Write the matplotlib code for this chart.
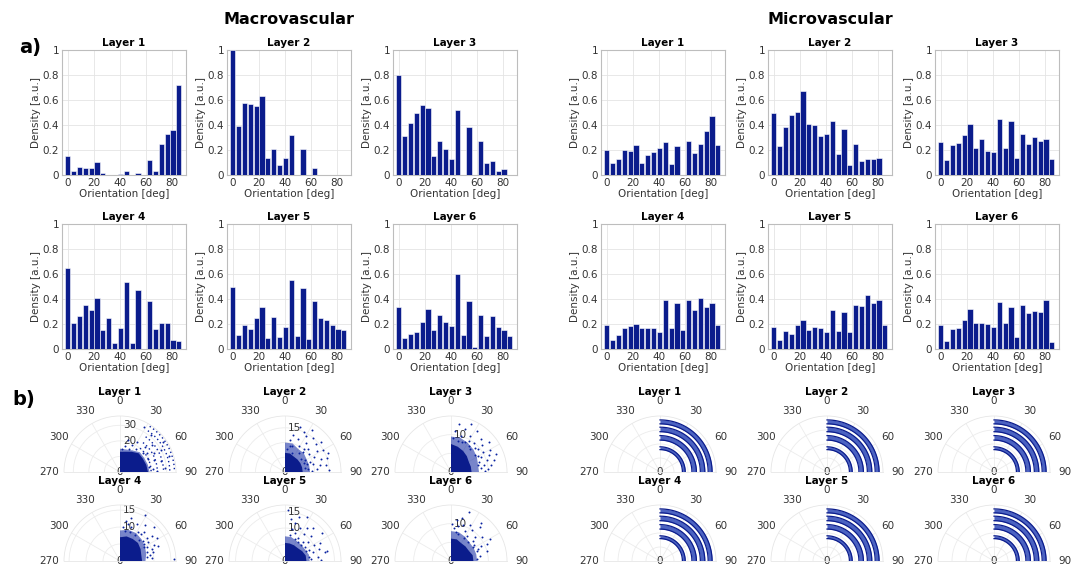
import numpy as np
import matplotlib
matplotlib.use("Agg")
import matplotlib.pyplot as plt

# ---------------------------------------------------------------- data
orientation_bins = [0, 4.5, 9, 13.5, 18, 22.5, 27, 31.5, 36, 40.5,
                    45, 49.5, 54, 58.5, 63, 67.5, 72, 76.5, 81, 85.5]

macro_l1 = [0.155, 0.035, 0.065, 0.06, 0.055, 0.105, 0.015, 0.003, 0.0, 0.005,
            0.03, 0.0, 0.02, 0.0, 0.12, 0.035, 0.25, 0.325, 0.36, 0.72]
macro_l2 = [1.0, 0.395, 0.575, 0.565, 0.55, 0.635, 0.14, 0.21, 0.08, 0.14,
            0.32, 0.0, 0.21, 0.0, 0.06, 0.0, 0.0, 0.0, 0.0, 0.0]
macro_l3 = [0.8, 0.31, 0.415, 0.5, 0.56, 0.54, 0.155, 0.275, 0.21, 0.125,
            0.52, 0.0, 0.385, 0.0, 0.275, 0.095, 0.11, 0.03, 0.05, 0.0]
macro_l4 = [0.65, 0.205, 0.265, 0.355, 0.31, 0.405, 0.155, 0.245, 0.045, 0.17,
            0.535, 0.045, 0.475, 0.0, 0.385, 0.16, 0.21, 0.205, 0.07, 0.065]
macro_l5 = [0.5, 0.115, 0.195, 0.16, 0.25, 0.34, 0.085, 0.255, 0.095, 0.175,
            0.555, 0.105, 0.49, 0.08, 0.385, 0.245, 0.23, 0.195, 0.16, 0.15]
macro_l6 = [0.335, 0.085, 0.12, 0.14, 0.22, 0.32, 0.155, 0.275, 0.22, 0.185,
            0.6, 0.115, 0.385, 0.015, 0.275, 0.105, 0.265, 0.175, 0.15, 0.105]

micro_l1 = [0.2, 0.1, 0.13, 0.2, 0.195, 0.24, 0.1, 0.16, 0.185, 0.215,
            0.265, 0.085, 0.23, 0.0, 0.27, 0.18, 0.25, 0.35, 0.47, 0.24]
micro_l2 = [0.5, 0.23, 0.385, 0.48, 0.505, 0.675, 0.405, 0.4, 0.31, 0.325,
            0.435, 0.165, 0.365, 0.08, 0.25, 0.11, 0.13, 0.13, 0.14, 0.0]
micro_l3 = [0.265, 0.12, 0.24, 0.255, 0.32, 0.405, 0.22, 0.285, 0.195, 0.185,
            0.445, 0.22, 0.43, 0.135, 0.33, 0.245, 0.305, 0.275, 0.29, 0.125]
micro_l4 = [0.19, 0.07, 0.115, 0.165, 0.185, 0.2, 0.165, 0.165, 0.165, 0.135,
            0.395, 0.165, 0.37, 0.155, 0.39, 0.31, 0.41, 0.34, 0.37, 0.195]
micro_l5 = [0.18, 0.075, 0.145, 0.12, 0.19, 0.23, 0.155, 0.175, 0.165, 0.135,
            0.315, 0.145, 0.3, 0.14, 0.35, 0.345, 0.43, 0.365, 0.39, 0.195]
micro_l6 = [0.19, 0.065, 0.16, 0.17, 0.235, 0.32, 0.21, 0.205, 0.2, 0.175,
            0.375, 0.21, 0.335, 0.095, 0.355, 0.29, 0.305, 0.3, 0.395, 0.06]

layer_titles = ["Layer 1", "Layer 2", "Layer 3", "Layer 4", "Layer 5", "Layer 6"]

# polar scatter: orientation (deg) vs. length, macrovascular segments
core_theta = [0, 15, 30, 45, 60, 75, 90]
macro_core_r = [[13, 13.5, 15, 17, 17, 17.5, 18],
                [6.5, 6.5, 6, 6, 6, 6, 6],
                [7.5, 7, 6.5, 6, 5.5, 5.5, 5.5],
                [7, 7.5, 7.5, 7.5, 7, 6.5, 6.5],
                [5.5, 5.5, 5.5, 5.5, 6, 6.5, 6.5],
                [6, 6, 5.5, 5.5, 5.5, 6, 6]]
macro_mid_r = [[15, 15, 16, 18, 18, 18.5, 19],
               [10, 10, 9, 9, 8.5, 8.5, 8.5],
               [9.5, 9.5, 9, 8.5, 8, 7.5, 7.5],
               [9, 9.5, 9.5, 9, 8.5, 8, 7.5],
               [7.5, 7.5, 7, 7, 7, 7.5, 7.5],
               [8, 8, 7.5, 7, 7, 7, 7]]
macro_rmax = [36, 19, 15, 16.5, 17, 15]
macro_rticks = [[10, 20, 30], [5, 10, 15], [5, 10],
                [5, 10, 15], [5, 10, 15], [5, 10]]
macro_rlabels = [[20, 30], [15], [10], [10, 15], [10, 15], [10]]

macro_l1_arc_r = [20, 24, 28, 32, 35]
macro_l1_arc_start = [40, 38, 36, 34, 33]

macro_l1_theta = [5, 10, 20, 25, 35, 50, 55, 65, 80, 85, 15, 30, 45, 60, 70,
                  75, 88, 50, 62, 40, 85, 28, 55, 72]
macro_l1_r = [15, 17, 16, 19, 18, 19, 21, 20, 19, 21, 21, 22, 23, 25, 23,
              27, 24, 27, 30, 31, 29, 33, 34, 33]
macro_l2_theta = [5, 8, 12, 15, 18, 22, 25, 28, 30, 33, 36, 40, 42, 45, 48, 50,
                  53, 56, 58, 60, 63, 66, 68, 70, 72, 75, 78, 80, 82, 85, 87, 88,
                  20, 35, 50, 65, 80, 10, 40, 70]
macro_l2_r = [8, 11, 13, 9, 16, 12, 15, 10, 14, 17, 12, 15, 9, 11, 14, 16,
              10, 13, 8, 15, 11, 16, 9, 13, 15, 10, 12, 14, 8, 11, 15, 9,
              7, 8, 7, 7, 7, 9, 10, 8]
macro_l3_theta = [5, 10, 15, 18, 22, 25, 28, 32, 35, 38, 42, 45, 48, 52, 55, 58,
                  60, 63, 66, 68, 70, 72, 75, 78, 80, 83, 85, 88, 20, 30, 40, 50,
                  60, 3, 12, 76]
macro_l3_r = [11, 13, 10, 12, 14, 9, 11, 13, 8.5, 10, 12, 9, 11, 13, 8, 10,
              12, 9, 11, 13, 8, 10, 12, 9, 11, 8, 10, 9, 8.5, 9.5, 8, 9.5,
              8.5, 9, 8.5, 7.5]
macro_l4_theta = [5, 8, 12, 15, 20, 25, 28, 32, 35, 40, 45, 48, 52, 55, 58, 62,
                  65, 68, 72, 75, 78, 82, 85, 88, 18, 30, 42, 50, 60, 70, 10, 38, 55]
macro_l4_r = [10, 12, 11, 13, 9, 12, 15.5, 10, 13, 11, 14, 9, 12, 10, 13, 9,
              11, 12, 8.5, 10, 9, 8, 9.5, 16, 10.5, 9, 8.5, 10.5, 8, 10, 9, 10, 8.5]
macro_l5_theta = [3, 8, 12, 15, 18, 20, 24, 27, 30, 33, 36, 40, 43, 46, 50, 53,
                  56, 60, 63, 66, 70, 73, 76, 80, 83, 86, 88, 10, 25, 45, 65, 35, 78]
macro_l5_r = [15.5, 13, 10, 12, 14, 9, 11, 15, 8, 12, 10, 13, 8, 11, 9, 14,
              7.5, 10, 12, 8, 11, 9, 13, 7.5, 10, 8, 11, 8, 7.5, 7, 7, 7, 12.5]
macro_l6_theta = [5, 8, 10, 14, 18, 20, 25, 28, 32, 35, 40, 45, 48, 52, 55, 60,
                  63, 66, 70, 75, 80, 85, 15, 30, 42, 58, 2, 12, 38, 65]
macro_l6_r = [9, 11, 8, 12, 10, 14, 9, 11, 8, 10, 12, 9, 8, 10.5, 7.5, 12,
              9, 8, 7.5, 10, 8, 7, 7.5, 7, 7, 7, 10, 9.5, 13, 10.5]

macro_scatter_theta = [macro_l1_theta, macro_l2_theta, macro_l3_theta,
                       macro_l4_theta, macro_l5_theta, macro_l6_theta]
macro_scatter_r = [macro_l1_r, macro_l2_r, macro_l3_r,
                   macro_l4_r, macro_l5_r, macro_l6_r]

# microvascular segments cluster on a few discrete lengths (rings)
micro_ring_inner = [0.40, 0.57, 0.72, 0.86]
micro_ring_outer = [0.45, 0.65, 0.80, 0.93]

# ---------------------------------------------------------------- style
BAR = "#0b1c8c"
DOT = "#0a22a0"
TXT = "#333333"
W, H = 1078, 569
R_PX = 56

fig = plt.figure(figsize=(W / 100, H / 100), dpi=100)
fig.patch.set_facecolor("white")


def px_axes(left, top, width, height, **kw):
    return fig.add_axes([left / W, 1 - (top + height) / H, width / W, height / H], **kw)


def hist_panel(cx, top, vals, title):
    ax = px_axes(cx - 62, top, 124, 125)
    ax.bar(orientation_bins, vals, width=4.0, color=BAR, edgecolor="white",
           linewidth=0.4, zorder=3)
    ax.set_xlim(-4.5, 91)
    ax.set_ylim(0, 1)
    ax.set_xticks([0, 20, 40, 60, 80])
    ax.set_yticks([0, 0.2, 0.4, 0.6, 0.8, 1.0])
    ax.set_yticklabels(["0", "0.2", "0.4", "0.6", "0.8", "1"])
    ax.grid(True, color="#e4e4e4", lw=0.6)
    ax.set_axisbelow(True)
    ax.tick_params(length=0, labelsize=7.5, colors=TXT, pad=2)
    for s in ax.spines.values():
        s.set_color("#bdbdbd")
        s.set_linewidth(0.8)
    ax.set_title(title, fontsize=7.5, fontweight="bold", pad=3)
    ax.set_xlabel("Orientation [deg]", fontsize=7.5, labelpad=1, color=TXT)
    ax.set_ylabel("Density [a.u.]", fontsize=7.5, labelpad=1, color=TXT)
    return ax


def polar_base(cx, cy, rmax, rticks, rlabels, title):
    # a half-disc wedge is centred in a square box: origin sits at 1/4 height
    ax = px_axes(cx - R_PX, cy - 1.5 * R_PX, 2 * R_PX, 2 * R_PX,
                 projection="polar")
    ax.set_theta_zero_location("N")
    ax.set_theta_direction(-1)
    ax.set_thetamin(-90)
    ax.set_thetamax(90)
    ax.set_ylim(0, rmax)
    ax.set_xticks(np.deg2rad([-90, -60, -30, 0, 30, 60, 90]))
    ax.set_xticklabels(["270", "300", "330", "0", "30", "60", "90"])
    ax.set_yticks(rticks)
    ax.set_yticklabels([])
    ax.tick_params(labelsize=7.5, colors=TXT, pad=0)
    ax.grid(True, color="#ececec", lw=0.6)
    for s in ax.spines.values():
        s.set_color("#e6e6e6")
        s.set_linewidth(0.6)
    for t in rlabels:
        ax.annotate(str(t), xy=(0, t), xytext=(2, 0), textcoords="offset points",
                    fontsize=7.5, color=TXT, ha="left", va="center", zorder=2)
    ax.text(0, 0, "0", fontsize=7.5, color=TXT, ha="center", va="center",
            zorder=2)
    fig.text(cx / W, 1 - (cy - 80) / H, title, ha="center", va="center",
             fontsize=7.5, fontweight="bold")
    return ax


macro_hist = [macro_l1, macro_l2, macro_l3, macro_l4, macro_l5, macro_l6]
micro_hist = [micro_l1, micro_l2, micro_l3, micro_l4, micro_l5, micro_l6]
macro_cx = [124, 289, 455]
micro_cx = [663, 830, 997]
hist_top = [50, 224]

for i in range(6):
    row, col = divmod(i, 3)
    hist_panel(macro_cx[col], hist_top[row], macro_hist[i], layer_titles[i])
    hist_panel(micro_cx[col], hist_top[row], micro_hist[i], layer_titles[i])

polar_cy = [472, 561]
core_rad = np.deg2rad(core_theta)

for i in range(6):
    row, col = divmod(i, 3)
    # macrovascular
    ax = polar_base(macro_cx[col] - 4, polar_cy[row], macro_rmax[i],
                    macro_rticks[i], macro_rlabels[i], layer_titles[i])
    th = np.concatenate([[0], core_rad, [np.pi / 2]])
    ax.fill(th, np.concatenate([[0], macro_mid_r[i], [0]]), color=DOT,
            alpha=0.55, lw=0, zorder=3)
    ax.fill(th, np.concatenate([[0], macro_core_r[i], [0]]), color=BAR,
            lw=0, zorder=3)
    if i == 0:
        for r, a0 in zip(macro_l1_arc_r, macro_l1_arc_start):
            arc = np.deg2rad(np.linspace(a0, 90, 40))
            ax.plot(arc, np.full_like(arc, r), ls=(0, (1, 2)), color=DOT,
                    lw=1.0, zorder=3)
    ax.scatter(np.deg2rad(macro_scatter_theta[i]), macro_scatter_r[i], s=2,
               color=DOT, lw=0, zorder=3)

    # microvascular
    ax = polar_base(micro_cx[col] - 3, polar_cy[row], 1.0, [0.25, 0.5, 0.75],
                    [], layer_titles[i])
    arc = np.deg2rad(np.linspace(0, 90, 60))
    for r0, r1 in zip(micro_ring_inner, micro_ring_outer):
        ax.fill_between(arc, r0, r1, color="#2c48b8", alpha=0.85, lw=0, zorder=3)
        ax.plot(arc, np.full_like(arc, r0), color=BAR, lw=0.9, zorder=3)
        ax.plot(arc, np.full_like(arc, r1), color=BAR, lw=0.9, zorder=3)

fig.text(289 / W, 1 - 20 / H, "Macrovascular", ha="center", va="center",
         fontsize=11.5, fontweight="bold")
fig.text(830 / W, 1 - 20 / H, "Microvascular", ha="center", va="center",
         fontsize=11.5, fontweight="bold")
fig.text(30 / W, 1 - 48 / H, "a)", ha="center", va="center",
         fontsize=14, fontweight="bold")
fig.text(24 / W, 1 - 400 / H, "b)", ha="center", va="center",
         fontsize=14, fontweight="bold")

fig.savefig("out.png", dpi=100)
